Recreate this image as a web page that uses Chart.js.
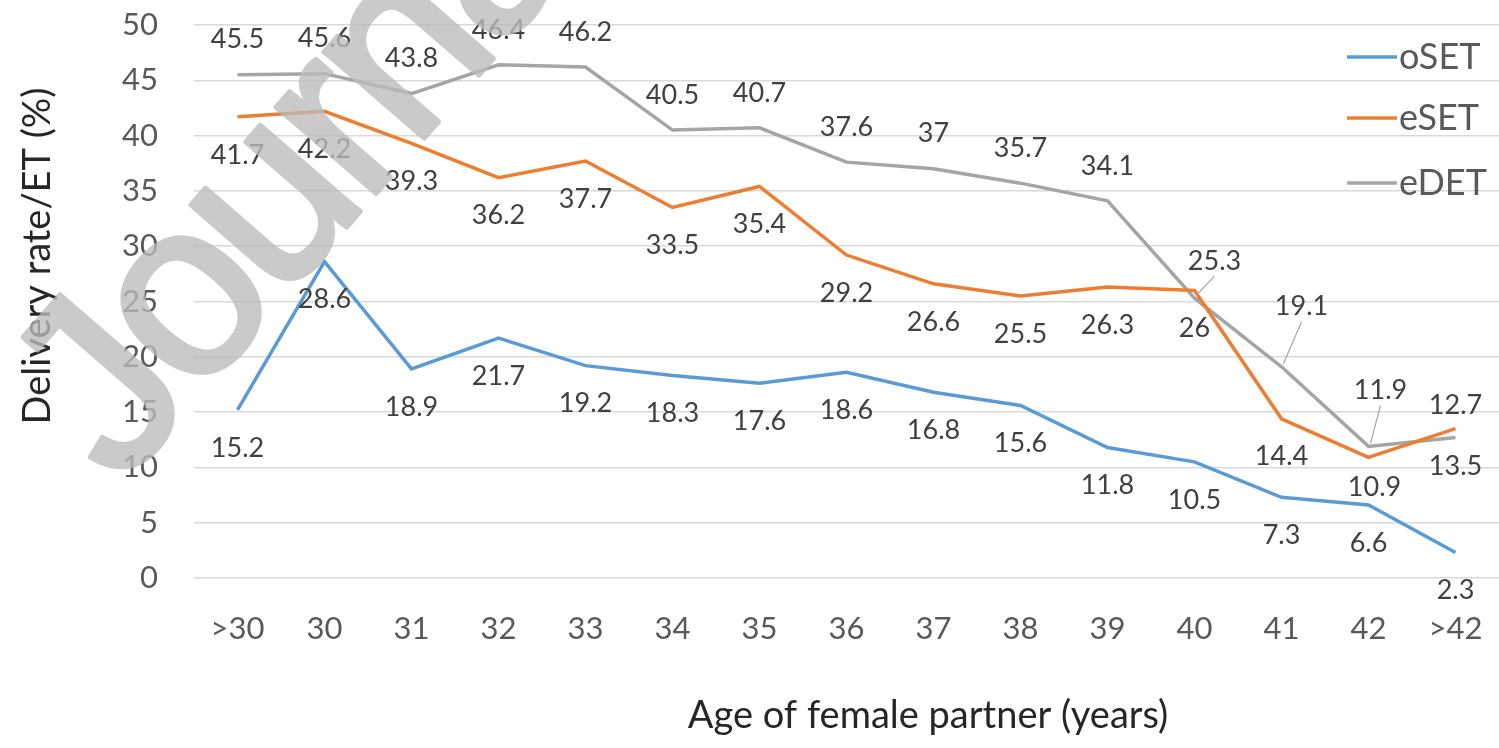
<!DOCTYPE html>
<html>
<head>
<meta charset="utf-8">
<script src="https://cdn.jsdelivr.net/npm/chart.js@4.4.1/dist/chart.umd.min.js"></script>
<style>
  html, body { margin: 0; padding: 0; background: #fff; }
  #wrap { width: 1499px; height: 748px; position: relative; }
</style>
</head>
<body>
<div id="wrap"><canvas id="chart"></canvas></div>
<script>
const ages = ['>30', '30', '31', '32', '33', '34', '35', '36', '37', '38', '39', '40', '41', '42', '>42'];
const oSET = [15.2, 28.6, 18.9, 21.7, 19.2, 18.3, 17.6, 18.6, 16.8, 15.6, 11.8, 10.5, 7.3, 6.6, 2.3];
const eSET = [41.7, 42.2, 39.3, 36.2, 37.7, 33.5, 35.4, 29.2, 26.6, 25.5, 26.3, 26, 14.4, 10.9, 13.5];
const eDET = [45.5, 45.6, 43.8, 46.4, 46.2, 40.5, 40.7, 37.6, 37, 35.7, 34.1, 25.3, 19.1, 11.9, 12.7];
const seriesNames = ['oSET', 'eSET', 'eDET'];
const seriesColors = ['#5b9bd5', '#ed7d31', '#a5a5a5'];
const yTicks = [0, 5, 10, 15, 20, 25, 30, 35, 40, 45, 50];

const FONT = 'Lato';

// where each data label sits, relative to its point
const labelOffset = [38, 38, -35];
const labelMoves = {
  '1-13': { dx: 6, dy: 30 },
  '2-11': { dx: 20, dy: -37, leader: true },
  '2-12': { dx: 20, dy: -60, leader: true },
  '2-13': { dx: 12, dy: -56, leader: true },
  '2-14': { dx: 0, dy: -32 }
};

const dataLabels = {
  id: 'dataLabels',
  afterDatasetsDraw(chart) {
    const ctx = chart.ctx;
    ctx.save();
    ctx.font = '27px ' + FONT;
    ctx.textAlign = 'center';
    ctx.textBaseline = 'middle';
    chart.data.datasets.forEach((ds, d) => {
      const meta = chart.getDatasetMeta(d);
      meta.data.forEach((pt, i) => {
        const mv = labelMoves[d + '-' + i] || { dx: 0, dy: labelOffset[d] };
        const lx = pt.x + mv.dx;
        const ly = pt.y + mv.dy;
        if (mv.leader) {
          ctx.strokeStyle = '#a5a5a5';
          ctx.lineWidth = 1.2;
          ctx.beginPath();
          ctx.moveTo(lx, ly + 15);
          ctx.lineTo(pt.x + 2, pt.y - 3);
          ctx.stroke();
        }
        ctx.fillStyle = '#404040';
        ctx.fillText(String(ds.data[i]), lx, ly);
      });
    });
    ctx.restore();
  }
};

// the "Journal" stamp, drawn opaque off-screen then laid over at partial alpha
function drawWatermark(ctx, w, h) {
  const off = document.createElement('canvas');
  off.width = w;
  off.height = h;
  const o = off.getContext('2d');
  o.translate(120, 488);
  o.rotate(-49 * Math.PI / 180);
  o.font = '250px "Liberation Sans"';
  if ('letterSpacing' in o) o.letterSpacing = '-10px';
  o.fillStyle = '#bbbbbb';
  o.strokeStyle = '#bbbbbb';
  o.lineWidth = 5;
  o.lineJoin = 'round';
  o.fillText('Journal', 0, 0);
  o.strokeText('Journal', 0, 0);
  ctx.save();
  ctx.setTransform(1, 0, 0, 1, 0, 0);
  ctx.globalAlpha = 0.78;
  ctx.drawImage(off, 0, 0);
  ctx.restore();
}

const extras = {
  id: 'extras',
  afterDraw(chart) {
    const ctx = chart.ctx;
    ctx.save();
    // legend inside the plot, top right
    const legY = [57, 118, 183];
    ctx.font = '36px ' + FONT;
    ctx.textBaseline = 'middle';
    ctx.textAlign = 'left';
    seriesNames.forEach((name, k) => {
      ctx.strokeStyle = seriesColors[k];
      ctx.lineWidth = 3.5;
      ctx.beginPath();
      ctx.moveTo(1347, legY[k]);
      ctx.lineTo(1397, legY[k]);
      ctx.stroke();
      ctx.fillStyle = '#595959';
      ctx.fillText(name, 1399, legY[k]);
    });

    // axis titles
    ctx.fillStyle = '#262626';
    ctx.font = '38px ' + FONT;
    ctx.textAlign = 'center';
    ctx.fillText('Age of female partner (years)', 928, 716);
    ctx.translate(38, 256);
    ctx.rotate(-Math.PI / 2);
    ctx.fillText('Delivery rate/ET (%)', 0, 0);
    ctx.restore();

    drawWatermark(ctx, chart.width, chart.height);
  }
};

const ctx = document.getElementById('chart').getContext('2d');
new Chart(ctx, {
  type: 'line',
  data: {
    labels: ages,
    datasets: [oSET, eSET, eDET].map((vals, k) => ({
      label: seriesNames[k],
      data: vals,
      borderColor: seriesColors[k],
      backgroundColor: seriesColors[k],
      borderWidth: 3.5,
      pointRadius: 0,
      tension: 0,
      fill: false
    }))
  },
  options: {
    responsive: true,
    maintainAspectRatio: false,
    animation: false,
    layout: { padding: { top: 25, right: 0, left: 0, bottom: 0 } },
    plugins: {
      legend: { display: false },
      tooltip: { enabled: false }
    },
    scales: {
      x: {
        offset: true,
        grid: { display: false, drawTicks: false },
        border: { display: false },
        ticks: { color: '#595959', font: { family: FONT, size: 31 }, padding: 32, maxRotation: 0, autoSkip: false },
        afterFit(scale) { scale.height = 170; scale.paddingLeft = 0; scale.paddingRight = 0; }
      },
      y: {
        min: 0,
        max: 50,
        afterBuildTicks(scale) { scale.ticks = yTicks.map(v => ({ value: v })); },
        grid: { color: '#d9d9d9', lineWidth: 1.5, drawTicks: false },
        border: { display: false },
        ticks: { color: '#595959', font: { family: FONT, size: 31 }, padding: 36 },
        afterFit(scale) { scale.width = 194; scale.paddingTop = 0; scale.paddingBottom = 0; }
      }
    }
  },
  plugins: [dataLabels, extras]
});
</script>
</body>
</html>
